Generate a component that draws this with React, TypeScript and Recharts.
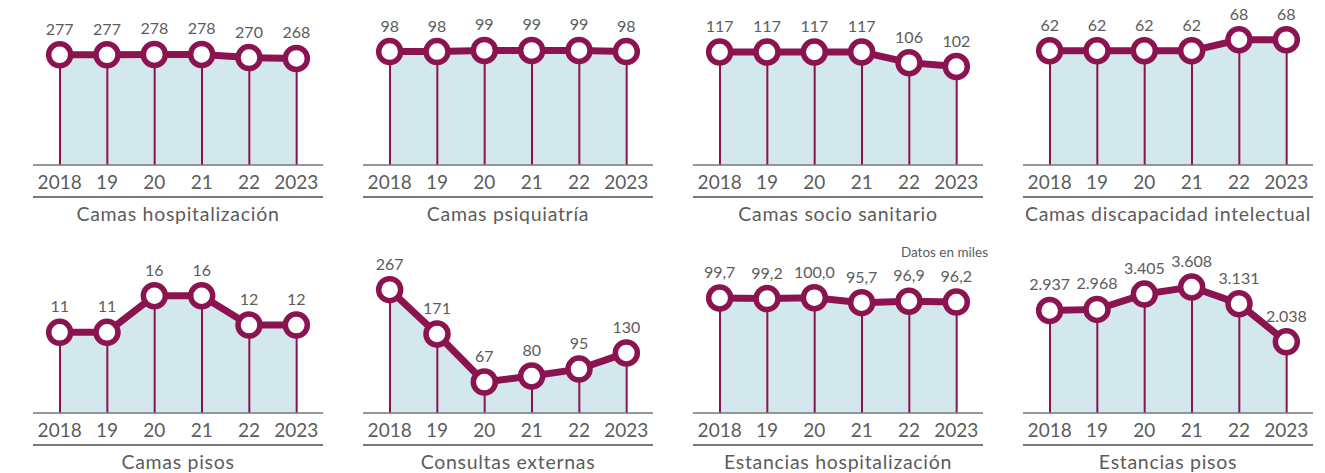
import React from 'react';
import { ComposedChart, Area, Bar, Line, XAxis, YAxis, LabelList } from 'recharts';

const years = ['2018', '19', '20', '21', '22', '2023'];

const camasHospitalizacion = [277, 277, 278, 278, 270, 268];
const camasPsiquiatria = [98, 98, 99, 99, 99, 98];
const camasSocioSanitario = [117, 117, 117, 117, 106, 102];
const camasDiscapacidad = [62, 62, 62, 62, 68, 68];
const camasPisos = [11, 11, 16, 16, 12, 12];
const consultasExternas = [267, 171, 67, 80, 95, 130];
const estanciasHospitalizacion = [99.7, 99.2, 100.0, 95.7, 96.9, 96.2];
const estanciasPisos = [2937, 2968, 3405, 3608, 3131, 2038];

const MAROON = '#8b1450';
const FILL = '#d3e8ec';
const GREY = '#5c5c5c';
const FONT = 'Lato, "Open Sans", sans-serif';

type Fmt = 'int' | 'dec' | 'miles';

const fmt = (v: number, f: Fmt) => {
  if (f === 'dec') return v.toFixed(1).replace('.', ',');
  if (f === 'miles') return String(Math.round(v)).replace(/\B(?=(\d{3})+(?!\d))/g, '.');
  return String(v);
};

// domain max tuned per panel so heights match the original
const charts: { title: string; values: number[]; max: number; f: Fmt }[] = [
  { title: 'Camas hospitalización', values: camasHospitalizacion, max: 352, f: 'int' },
  { title: 'Camas psiquiatría', values: camasPsiquiatria, max: 121, f: 'int' },
  { title: 'Camas socio sanitario', values: camasSocioSanitario, max: 145, f: 'int' },
  { title: 'Camas discapacidad intelectual', values: camasDiscapacidad, max: 76, f: 'int' },
  { title: 'Camas pisos', values: camasPisos, max: 19.1, f: 'int' },
  { title: 'Consultas externas', values: consultasExternas, max: 303, f: 'int' },
  { title: 'Estancias hospitalización', values: estanciasHospitalizacion, max: 121.4, f: 'dec' },
  { title: 'Estancias pisos', values: estanciasPisos, max: 4010, f: 'miles' },
];

const Panel = ({ title, values, max, f }: { title: string; values: number[]; max: number; f: Fmt }) => {
  const data = years.map((year, i) => ({ year, value: values[i] }));
  return (
    <div style={{ position: 'relative', width: 330, height: 225 }}>
      <ComposedChart width={330} height={197} data={data} margin={{ top: 25, right: 7, bottom: 0, left: 33 }}>
        <XAxis
          dataKey="year"
          height={32}
          tickLine={false}
          tickSize={6}
          tickMargin={5}
          padding={{ left: 3, right: 3 }}
          axisLine={{ stroke: '#777', strokeWidth: 1.5 }}
          tick={{ fill: GREY, fontSize: 19, fontFamily: FONT }}
          interval={0}
        />
        <YAxis hide domain={[0, max]} />
        <Area dataKey="value" stroke="none" fill={FILL} fillOpacity={1} isAnimationActive={false} activeDot={false} />
        <Bar dataKey="value" barSize={2} fill={MAROON} isAnimationActive={false} />
        <Line
          dataKey="value"
          stroke={MAROON}
          strokeWidth={7}
          dot={{ r: 11, fill: '#fff', stroke: MAROON, strokeWidth: 5.5 }}
          activeDot={false}
          isAnimationActive={false}
        >
          <LabelList
            dataKey="value"
            position="top"
            offset={20}
            formatter={(v: any) => fmt(Number(v), f)}
            fill={GREY}
            fontSize={16}
            fontFamily={FONT}
          />
        </Line>
      </ComposedChart>
      <div style={{ position: 'absolute', left: 33, top: 196, width: 290, height: 2, background: '#7a7a7a', zIndex: 5 }} />
      <div
        style={{
          position: 'absolute',
          left: 33,
          top: 203,
          width: 290,
          lineHeight: '22px',
          textAlign: 'center',
          fontSize: 19.5,
          color: GREY,
          letterSpacing: 0.7,
          whiteSpace: 'nowrap',
        }}
      >
        {title}
      </div>
    </div>
  );
};

export default function App() {
  return (
    <div style={{ position: 'absolute', left: 0, top: 0, width: 1325, height: 473, background: '#fff', fontFamily: FONT }}>
      {charts.map((c, i) => (
        <div key={c.title} style={{ position: 'absolute', left: (i % 4) * 330, top: i < 4 ? 0 : 248 }}>
          <Panel {...c} />
        </div>
      ))}
      <div style={{ position: 'absolute', left: 880, top: 244, width: 108, textAlign: 'right', fontSize: 13.5, color: GREY, whiteSpace: 'nowrap' }}>
        Datos en miles
      </div>
    </div>
  );
}
